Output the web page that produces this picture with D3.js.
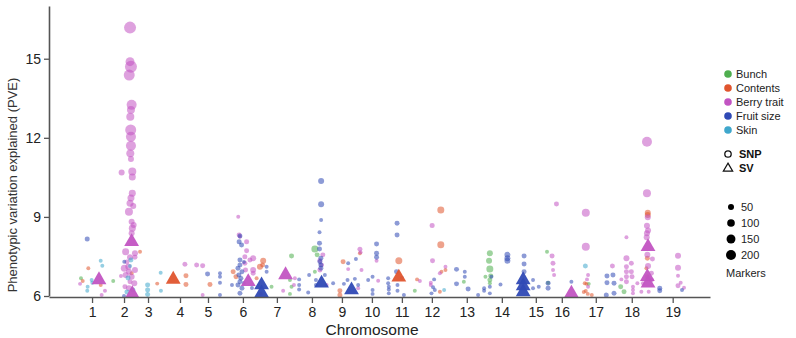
<!DOCTYPE html>
<html>
<head>
<meta charset="utf-8">
<script src="https://cdn.jsdelivr.net/npm/d3@7/dist/d3.min.js"></script>
<style>
  html, body { margin: 0; padding: 0; background: #fff; }
  svg { display: block; font-family: "Liberation Sans", Arial, sans-serif; }
</style>
</head>
<body>
<svg id="chart" width="796" height="338"></svg>
<script>
// Chromosome labels and their centre positions along the genome (Mb, cumulative)
const chromosomes = ["1","2","3","4","5","6","7","8","9","10","11","12","13","14","15","16","17","18","19"];
const chromCenters = [32.3, 56.3, 74.3, 98.3, 119.3, 145.5, 171, 197.3, 219.8, 242.3, 264.8, 287.3, 313.5, 339.8, 365.3, 384.8, 410.3, 437.3, 468];
const genomeLength = 496;

const yTicks = [6, 9, 12, 15];

const traits = ["Bunch", "Contents", "Berry trait", "Fruit size", "Skin"];
const traitColors = ["#4fae4f", "#e0552e", "#c254c2", "#2f49b5", "#3fa7cc"];

const markerLegend = [50, 100, 150, 200];

// SNP associations: [genome position (Mb), PVE (%), number of markers]
const bunchSNP = [
  [24, 6.67, 12], [48.2, 6.57, 12], [167, 6.35, 12], [182, 7.52, 28], [180.8, 6.61, 12],
  [182, 6.35, 12], [180.8, 6.08, 12], [199.5, 7.78, 78], [201.2, 7.56, 28], [199.5, 6.92, 12],
  [274.5, 6.20, 12], [311.3, 6.54, 12], [327.5, 6.73, 12], [330.8, 7.62, 50], [330.2, 7.34, 50],
  [330.8, 7.02, 78], [331.5, 6.76, 28], [330.8, 6.61, 28], [330.8, 6.48, 12], [373.7, 7.68, 12],
  [374.5, 6.50, 12], [405, 6.46, 12], [429, 6.35, 28], [431.5, 6.16, 28]
];

const contentsSNP = [
  [29.5, 7.05, 12], [25.3, 6.57, 12], [38.8, 6.42, 12], [68.3, 7.68, 12], [62, 6.86, 12],
  [81.2, 6.47, 12], [102.8, 6.77, 28], [102.8, 6.44, 28], [120.8, 6.44, 28], [138.2, 6.92, 28],
  [140.3, 6.73, 28], [158.3, 7.11, 50], [160.7, 7.34, 50], [160.3, 7.18, 28], [155.8, 6.67, 12],
  [159, 6.08, 12], [220.7, 7.30, 28], [218.3, 6.20, 28], [218.3, 6.04, 28], [233.3, 7.62, 12],
  [262.5, 7.34, 78], [276.2, 6.63, 12], [294, 9.26, 78], [294, 7.94, 78], [297.5, 6.99, 12],
  [294.5, 6.92, 12], [293.3, 6.16, 12], [402, 6.48, 12], [403.3, 6.46, 12], [401.3, 6.15, 12],
  [404.3, 6.08, 12], [407.3, 6.04, 12], [402.8, 6.19, 12], [449.3, 9.16, 50], [449.3, 9.07, 50],
  [449, 7.43, 28], [449, 6.73, 28], [448.3, 7.05, 12]
];

const berrySNP = [
  [23.3, 6.46, 12], [42, 6.20, 12], [39.5, 6.04, 12],
  [60.8, 16.18, 312], [60.8, 14.89, 153], [61.5, 14.70, 312], [60.2, 14.38, 253], [62, 13.25, 200],
  [61.5, 13.06, 112], [61, 12.80, 112], [61.3, 12.30, 253], [61.5, 12.04, 200], [61.5, 11.70, 200],
  [61, 11.41, 112], [61.5, 11.20, 50], [54.5, 10.68, 50], [62.5, 10.72, 112], [62.5, 10.51, 78],
  [62.5, 9.90, 78], [61.5, 9.72, 78], [60.8, 9.52, 78], [63.2, 9.41, 50], [60, 9.20, 112],
  [62, 8.82, 50], [63.5, 8.69, 50], [62.5, 8.57, 78], [62, 8.38, 50], [57.5, 7.68, 78],
  [64.5, 7.62, 50], [60.8, 7.47, 50], [64.5, 7.47, 28], [59.5, 7.11, 50], [56.5, 7.05, 78],
  [60, 6.92, 50], [64.5, 6.99, 50], [57.5, 6.80, 50], [62, 6.73, 50], [60.8, 6.54, 28],
  [64, 6.48, 50], [57, 6.35, 28], [60, 6.29, 50], [54, 6.76, 12], [58.5, 7.29, 28],
  [102, 7.20, 28], [110.8, 7.18, 28], [115.3, 7.15, 28], [115.3, 6.04, 12],
  [142, 9.01, 12], [142.7, 8.31, 28], [143.3, 8.25, 12], [148.3, 8.06, 28], [148.3, 7.72, 28],
  [147, 7.49, 28], [147, 7.24, 28], [147.5, 6.99, 28], [153.2, 6.99, 50], [150.8, 7.37, 28],
  [153.2, 7.43, 50], [153.2, 6.86, 28],
  [175.7, 6.20, 12], [184.5, 6.67, 12], [183.8, 6.42, 12],
  [203.3, 7.34, 28], [203.3, 6.99, 28], [204.5, 7.18, 28], [208.3, 6.42, 12], [205.5, 7.56, 28],
  [224.5, 7.02, 12], [233.3, 7.77, 28], [233.8, 7.66, 12], [234.5, 6.99, 12], [232, 6.29, 12],
  [247, 6.58, 12], [245.8, 7.34, 12],
  [278.3, 6.57, 12],
  [287.5, 8.67, 28], [287.8, 7.34, 28], [297.5, 7.11, 12], [293.3, 6.86, 12], [286.5, 6.50, 12],
  [286.5, 6.42, 12],
  [377.5, 7.52, 28], [378.2, 7.24, 28], [378.2, 6.99, 12], [379, 6.80, 12], [380.8, 9.49, 28],
  [402.8, 9.16, 112], [402.8, 7.87, 112], [404.5, 6.80, 12], [403.7, 6.63, 12], [404.5, 6.35, 12],
  [422.8, 7.14, 28], [433.3, 8.23, 12], [433.3, 7.43, 50], [433.3, 7.11, 28], [433.3, 6.92, 28],
  [433.3, 6.73, 28], [433.3, 6.54, 28], [437, 7.24, 28], [437, 6.92, 28], [437.5, 6.73, 28],
  [438.2, 6.35, 12], [438.2, 6.23, 12], [438.2, 6.10, 12], [441.5, 6.48, 12], [444.5, 6.16, 12],
  [429.5, 6.63, 12],
  [448.7, 11.85, 200], [448.7, 9.90, 112], [449.3, 8.99, 50], [448.7, 8.66, 50], [449.5, 8.48, 50],
  [448.7, 8.38, 50], [448.5, 8.23, 50], [449, 7.56, 50], [452.8, 7.40, 28], [449.5, 7.14, 50],
  [452, 6.86, 28], [452, 6.61, 28], [450, 6.16, 12], [445.7, 6.48, 12],
  [472, 7.53, 50], [472, 7.07, 50], [472, 6.77, 12], [474, 6.50, 12], [472, 6.39, 28], [476.5, 6.31, 12]
];

const fruitSizeSNP = [
  [28.7, 8.16, 28], [56.5, 7.30, 12], [56.3, 6.0, 12],
  [119, 6.83, 28], [128.3, 6.86, 12], [128.3, 6.73, 12], [128.3, 6.50, 12], [128.3, 6.04, 12],
  [143.3, 8.28, 28], [142.7, 8.06, 28], [144.5, 7.93, 28], [143.3, 7.37, 28], [143.3, 7.18, 28],
  [141.8, 7.05, 28], [144.8, 6.92, 28], [142.5, 6.80, 28], [144, 6.67, 28], [143.3, 6.54, 28],
  [141.8, 6.42, 28], [144.8, 6.29, 28], [143.3, 6.10, 28], [146.3, 7.29, 12], [146.3, 6.49, 12],
  [163.3, 7.11, 12], [163.3, 6.92, 12], [137.3, 6.42, 12], [152.3, 6.30, 12],
  [187.7, 6.63, 12], [187.7, 6.42, 12], [187.7, 6.25, 12], [195.2, 6.80, 12], [194.5, 6.13, 12],
  [204.2, 10.36, 50], [204.2, 9.48, 50], [204.2, 8.88, 12], [203, 8.42, 12], [203, 8.00, 28],
  [203, 7.78, 28], [204, 7.43, 28], [203.3, 7.30, 28], [204, 7.18, 28], [204, 7.05, 28],
  [200.3, 6.61, 12], [200.3, 6.42, 12], [213.2, 6.48, 12], [207, 6.80, 12],
  [224, 6.61, 12], [221.3, 6.46, 12], [230.3, 7.40, 12], [229.5, 6.65, 12], [232, 6.42, 12],
  [239.5, 6.61, 12], [242.8, 6.73, 12], [245.8, 7.97, 28], [245.8, 7.62, 28], [245.8, 7.47, 28],
  [242.8, 6.23, 12], [242.8, 6.08, 12], [254.5, 6.67, 12], [254.5, 6.48, 12], [224.5, 7.24, 12],
  [255, 6.35, 12], [255, 6.25, 12], [255, 6.10, 12], [261.2, 8.76, 28], [261.2, 8.31, 28],
  [260.8, 6.92, 28], [261.5, 6.42, 12], [261.5, 6.20, 12], [266.3, 6.04, 12], [264.8, 6.68, 12],
  [289, 6.63, 12], [288.2, 6.33, 12], [289.5, 6.23, 12], [287, 6.10, 12],
  [305.8, 7.01, 28], [305.8, 6.46, 28], [312, 6.92, 12], [312, 6.73, 12], [314.5, 6.27, 28],
  [322, 6.04, 12], [326.5, 6.29, 12], [326.5, 6.20, 12], [330.8, 6.35, 12], [330.8, 6.10, 12],
  [332, 6.73, 12], [338.8, 6.44, 12], [344, 7.56, 50], [344, 7.43, 50], [344, 7.34, 50],
  [356.5, 7.52, 28], [356.5, 7.21, 28], [356.5, 6.92, 28], [363.2, 6.61, 12], [363.2, 6.29, 12],
  [367.5, 6.35, 12], [374.5, 6.48, 28], [374.5, 6.29, 28],
  [392, 6.54, 12],
  [418.7, 6.76, 28], [418.7, 6.50, 28], [418.2, 6.04, 28], [423.2, 6.80, 28], [424, 6.48, 28],
  [424, 6.10, 28], [458.3, 6.29, 28], [458.3, 6.20, 28], [475, 6.23, 12]
];

const skinSNP = [
  [38.8, 7.34, 12], [40, 7.15, 12], [32, 6.61, 12], [32.5, 6.50, 12], [29, 6.35, 12], [28.7, 6.20, 12],
  [61.5, 7.37, 28], [59.3, 6.68, 28], [63, 6.23, 28], [58.5, 6.15, 28], [60.8, 7.14, 12],
  [74, 6.42, 28], [74, 6.23, 28], [74, 6.06, 28], [83.8, 6.88, 12], [84, 6.20, 12],
  [296.5, 6.23, 12], [402.5, 7.14, 28]
];

// Structural-variant associations: [genome position (Mb), PVE (%), trait index]
const svHits = [
  [37.5, 6.61, 2], [62, 8.06, 2], [62.5, 6.08, 2], [93.2, 6.63, 1], [149.5, 6.54, 2],
  [159.5, 6.42, 3], [159.5, 6.11, 3], [177.5, 6.80, 2], [204.5, 6.48, 3], [227, 6.23, 3],
  [262.5, 6.71, 1], [355.8, 6.61, 3], [355.8, 6.38, 3], [355.8, 6.15, 3], [392, 6.10, 2],
  [449.5, 7.87, 2], [449, 6.73, 2], [449.5, 6.48, 2]
];

const snpSets = [bunchSNP, contentsSNP, berrySNP, fruitSizeSNP, skinSNP];

const svg = d3.select("#chart");
const plot = { left: 49, right: 710, top: 6, bottom: 296, axisY: 297 };

const x = d3.scaleLinear().domain([0, genomeLength]).range([plot.left, plot.right]);
const y = d3.scaleLinear().domain([6, 17]).range([plot.bottom, plot.top]);
const r = d3.scaleSqrt().domain([0, 200]).range([1, 5]);
const color = d3.scaleOrdinal().domain(d3.range(traits.length)).range(traitColors);

svg.append("defs").append("clipPath").attr("id", "plot-clip")
  .append("rect")
  .attr("x", plot.left).attr("y", 0)
  .attr("width", plot.right - plot.left).attr("height", plot.axisY);

const marks = svg.append("g").attr("clip-path", "url(#plot-clip)");

// SNP hits as translucent circles sized by marker count
snpSets.forEach((set, ti) => {
  marks.append("g").selectAll("circle")
    .data(set)
    .join("circle")
    .attr("cx", d => x(d[0]))
    .attr("cy", d => y(d[1]))
    .attr("r", d => r(d[2]))
    .attr("fill", color(ti))
    .attr("fill-opacity", 0.55);
});

// SV hits as solid triangles
const tri = d3.symbol().type(d3.symbolTriangle).size(95);
marks.append("g").selectAll("path")
  .data(svHits)
  .join("path")
  .attr("d", tri)
  .attr("transform", d => `translate(${x(d[0])},${y(d[1])})`)
  .attr("fill", d => color(d[2]))
  .attr("fill-opacity", 0.95);

// Axes
const xAxis = d3.axisBottom(x)
  .tickValues(chromCenters)
  .tickFormat((d, i) => chromosomes[i])
  .tickSize(6).tickSizeOuter(0).tickPadding(4);

const yAxis = d3.axisLeft(y)
  .tickValues(yTicks)
  .tickSize(5).tickSizeOuter(0).tickPadding(3);

const gx = svg.append("g").attr("transform", `translate(0,${plot.axisY})`).call(xAxis);
const gy = svg.append("g").attr("transform", `translate(${plot.left},0)`).call(yAxis);

[gx, gy].forEach(g => {
  g.select(".domain").attr("stroke", "#555").attr("stroke-width", 1.6);
  g.selectAll(".tick line").attr("stroke", "#555").attr("stroke-width", 1.3);
  g.selectAll(".tick text").attr("fill", "#222").style("font-size", "14px")
    .style("font-family", "'Liberation Sans', Arial, sans-serif");
});

svg.append("text")
  .attr("x", 372).attr("y", 335)
  .attr("text-anchor", "middle")
  .attr("fill", "#222")
  .style("font-size", "15.5px")
  .text("Chromosome");

svg.append("text")
  .attr("transform", "translate(17,185) rotate(-90)")
  .attr("text-anchor", "middle")
  .attr("fill", "#333")
  .style("font-size", "13px")
  .text("Phenotypic variation explained (PVE)");

// Legend: traits
const legend = svg.append("g").style("font-size", "11px");
const traitRows = legend.selectAll("g.trait")
  .data(traits)
  .join("g")
  .attr("class", "trait")
  .attr("transform", (d, i) => `translate(728,${74 + i * 14})`);
traitRows.append("circle").attr("r", 3.8).attr("fill", (d, i) => color(i));
traitRows.append("text").attr("x", 8).attr("dy", "0.35em").attr("fill", "#222").text(d => d);

// Legend: hit type
const typeRows = legend.append("g").attr("transform", "translate(728,154)");
typeRows.append("circle").attr("r", 3.2).attr("fill", "none").attr("stroke", "#111").attr("stroke-width", 1.3);
typeRows.append("path").attr("d", d3.symbol().type(d3.symbolTriangle).size(38))
  .attr("transform", "translate(0,14.5)")
  .attr("fill", "none").attr("stroke", "#111").attr("stroke-width", 1.2);
typeRows.append("text").attr("x", 11).attr("dy", "0.35em").style("font-weight", "bold").attr("fill", "#111").text("SNP");
typeRows.append("text").attr("x", 11).attr("y", 14).attr("dy", "0.35em").style("font-weight", "bold").attr("fill", "#111").text("SV");

// Legend: marker count
const sizeRows = legend.selectAll("g.size")
  .data(markerLegend)
  .join("g")
  .attr("class", "size")
  .attr("transform", (d, i) => `translate(731,${207 + i * 16})`);
sizeRows.append("circle").attr("r", d => r(d)).attr("fill", "#000");
sizeRows.append("text").attr("x", 10).attr("dy", "0.35em").attr("fill", "#222").text(d => d);
legend.append("text").attr("x", 726).attr("y", 277).attr("fill", "#222").text("Markers");
</script>
</body>
</html>
